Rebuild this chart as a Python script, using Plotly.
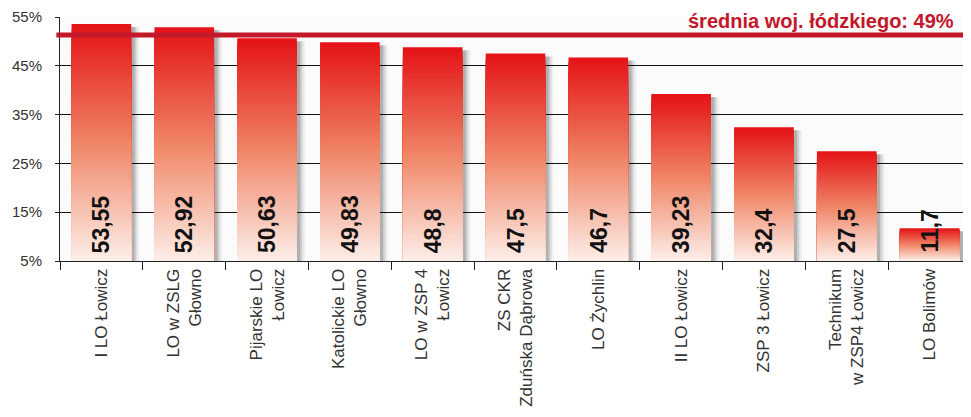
import plotly.graph_objects as go

categories = ["I LO Łowicz", "LO w ZSLG<br>Głowno", "Pijarskie LO<br>Łowicz",
              "Katolickie LO<br>Głowno", "LO w ZSP 4<br>Łowicz", "ZS CKR<br>Zduńska Dąbrowa",
              "LO Żychlin", "II LO Łowicz", "ZSP 3 Łowicz", "Technikum<br>w ZSP4 Łowicz",
              "LO Bolimów"]
values = [53.55, 52.92, 50.63, 49.83, 48.8, 47.5, 46.7, 39.23, 32.4, 27.5, 11.7]
avg_line_value = 51.3
avg_label = "średnia woj. łódzkiego: 49%"
tick_vals = [5, 15, 25, 35, 45, 55]
tick_text = ["5%", "15%", "25%", "35%", "45%", "55%"]

BASE = 5
N_STEPS = 48
stops = [(0.0, (253, 241, 236)), (0.5, (240, 135, 105)), (1.0, (228, 20, 24))]


def grad_color(f):
    for (f0, c0), (f1, c1) in zip(stops[:-1], stops[1:]):
        if f0 <= f <= f1:
            t = (f - f0) / (f1 - f0)
            c = [round(a + (b - a) * t) for a, b in zip(c0, c1)]
            return "rgb(%d,%d,%d)" % tuple(c)
    return "rgb(%d,%d,%d)" % stops[-1][1]


fig = go.Figure()
heights = [v - BASE for v in values]

# soft drop shadow
for dx, a in [(0.10, 0.04), (0.08, 0.06), (0.06, 0.09), (0.04, 0.14)]:
    fig.add_trace(go.Bar(
        x=categories, y=[h + 0.4 for h in heights], base=BASE - 1,
        width=0.72, offset=-0.36 + dx,
        marker=dict(color="rgba(0,0,0,%.2f)" % a, line=dict(width=0)),
        hoverinfo="skip", showlegend=False))

# gradient bars (stacked overlays, red at top fading to pale at base)
for k in range(N_STEPS):
    f = 1 - k / N_STEPS
    fig.add_trace(go.Bar(
        x=categories, y=[h * f for h in heights], base=BASE,
        width=0.72, offset=-0.36,
        marker=dict(color=grad_color(f), line=dict(width=0)),
        hoverinfo="skip", showlegend=False))

for c, v in zip(categories, values):
    fig.add_annotation(
        x=c, y=BASE, xref="x", yref="y", yanchor="bottom", xanchor="center",
        text="<b>%s</b>" % str(v).replace(".", ","), textangle=-90, showarrow=False,
        yshift=6, font=dict(family="Liberation Sans, Arial, sans-serif", size=23, color="#111"))

fig.add_shape(type="line", xref="paper", yref="y", x0=-0.004, x1=1.0,
              y0=avg_line_value, y1=avg_line_value,
              line=dict(color="#c3172a", width=5), layer="above")
fig.add_annotation(
    xref="paper", yref="paper", x=0.983, y=0.982, xanchor="right", yanchor="middle",
    text="<b>%s</b>" % avg_label, showarrow=False,
    font=dict(family="Liberation Sans, Arial, sans-serif", size=20, color="#c3172a"))

fig.update_layout(
    width=963, height=409, barmode="overlay",
    margin=dict(l=52, r=0, t=9, b=156, autoexpand=False),
    paper_bgcolor="white", plot_bgcolor="#fbfbfb",
    font=dict(family="Liberation Sans, Arial, sans-serif", color="#333"),
    showlegend=False,
)
fig.update_xaxes(
    type="category", tickangle=-90, tickson="boundaries", ticks="outside", ticklen=8,
    tickcolor="#222", showline=True, linecolor="#222", linewidth=1, automargin=False,
    tickfont=dict(size=17, color="#333"), showgrid=False, fixedrange=True)
fig.update_yaxes(
    range=[5, 55], tickvals=tick_vals, ticktext=tick_text, ticks="outside", ticklen=4,
    tickcolor="#222", showline=True, linecolor="#222", linewidth=1, automargin=False,
    ticklabelstandoff=10,
    showgrid=True, gridcolor="#111", gridwidth=1, tickfont=dict(size=15, color="#333"),
    zeroline=False, fixedrange=True)

fig.write_html("out.html")
